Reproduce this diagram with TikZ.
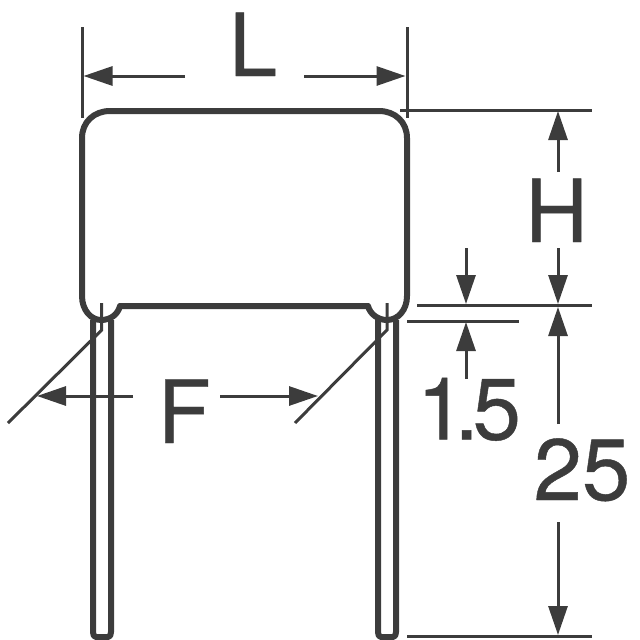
\documentclass[tikz,border=0pt]{standalone}
\usepackage{fontspec}
\setmainfont[FakeBold=0.5]{TeX Gyre Heros}
\usetikzlibrary{arrows.meta}
\definecolor{ink}{HTML}{3C3C3C}
\def\outline{(82,138) .. controls (82,122) and (94,111) .. (110,111) -- (379,111) .. controls (395,111) and (407,122) .. (407,138) -- (407,296) .. controls (407,310) and (398,320) .. (387,320) .. controls (378,320) and (370,314) .. (368,306) -- (120,306) .. controls (118,314) and (111,320) .. (101,320) .. controls (91,320) and (82,310) .. (82,296) -- cycle}
\def\leadl{(93,320) -- (93,632) .. controls (93,635) and (94,637) .. (96,637) -- (108,637) .. controls (110,637) and (111,635) .. (111,632) -- (111,320)}
\def\leadr{(378,320) -- (378,632) .. controls (378,635) and (379,637) .. (381,637) -- (393,637) .. controls (395,637) and (396,635) .. (396,632) -- (396,320)}
\tikzset{
  heavy/.style={line width=6pt,draw=ink,line join=round},
  thin line/.style={line width=3pt,draw=ink},
  dim/.style={thin line,-{Triangle[length=29pt,width=19pt,color=ink]}},
  label/.style={text=ink,inner sep=0pt,anchor=base,font=\fontsize{87}{87}\selectfont}
}
\begin{document}
\begin{tikzpicture}[x=1pt,y=-1pt]
\useasboundingbox (0,0) rectangle (640,640);

\draw[heavy] \leadl;
\draw[heavy] \leadr;
\draw[heavy] \outline;

\node[label] (lenL) at (253,76) {L};
\node[label] (lenH) at (556.5,242) {H};
\node[label] (lenF) at (184,443) {F};
\node[label] (gap) at (469,439.5) {1\kern-11pt.\kern-6pt5};
\node[label] (wire) at (582,500) {25};

% extension lines
\coordinate (extLa) at (82,27);
\coordinate (extLb) at (82,118);
\coordinate (extRa) at (407,27);
\coordinate (extRb) at (407,118);
\draw[thin line] (extLa) -- (extLb);
\draw[thin line] (extRa) -- (extRb);
\coordinate (topa) at (400,110);
\coordinate (topb) at (592,110);
\coordinate (mida) at (417,305.5);
\coordinate (midb) at (592,305.5);
\coordinate (lowa) at (407,321);
\coordinate (lowb) at (519,321);
\coordinate (bota) at (407,636);
\coordinate (botb) at (592,636);
\draw[thin line] (topa) -- (topb);
\draw[thin line] (mida) -- (midb);
\draw[thin line] (lowa) -- (lowb);
\draw[thin line] (bota) -- (botb);

% lead centres
\coordinate (cla) at (101.7,303);
\coordinate (clb) at (101.7,330);
\coordinate (clc) at (8,423);
\coordinate (cra) at (387,303);
\coordinate (crb) at (387,330);
\coordinate (crc) at (295,423);
\draw[thin line] (cla) -- (clb) -- (clc);
\draw[thin line] (cra) -- (crb) -- (crc);

% dimension arrows
\coordinate (Lla) at (185,76);
\coordinate (Llb) at (83.5,76);
\coordinate (Lra) at (304,76);
\coordinate (Lrb) at (405.5,76);
\draw[dim] (Lla) -- (Llb);
\draw[dim] (Lra) -- (Lrb);
\coordinate (Fla) at (133,396);
\coordinate (Flb) at (37,396);
\coordinate (Fra) at (220,396);
\coordinate (Frb) at (318,396);
\draw[dim] (Fla) -- (Flb);
\draw[dim] (Fra) -- (Frb);
\coordinate (Hta) at (558,172);
\coordinate (Htb) at (558,111);
\coordinate (Hba) at (558,248);
\coordinate (Hbb) at (558,304);
\draw[dim] (Hta) -- (Htb);
\draw[dim] (Hba) -- (Hbb);
\coordinate (Gta) at (466,248);
\coordinate (Gtb) at (466,304);
\coordinate (Gba) at (466,379);
\coordinate (Gbb) at (466,322);
\draw[dim] (Gta) -- (Gtb);
\draw[dim] (Gba) -- (Gbb);
\coordinate (Wta) at (558,424);
\coordinate (Wtb) at (558,307);
\coordinate (Wba) at (558,522);
\coordinate (Wbb) at (558,635);
\draw[dim] (Wta) -- (Wtb);
\draw[dim] (Wba) -- (Wbb);

\end{tikzpicture}
\end{document}
